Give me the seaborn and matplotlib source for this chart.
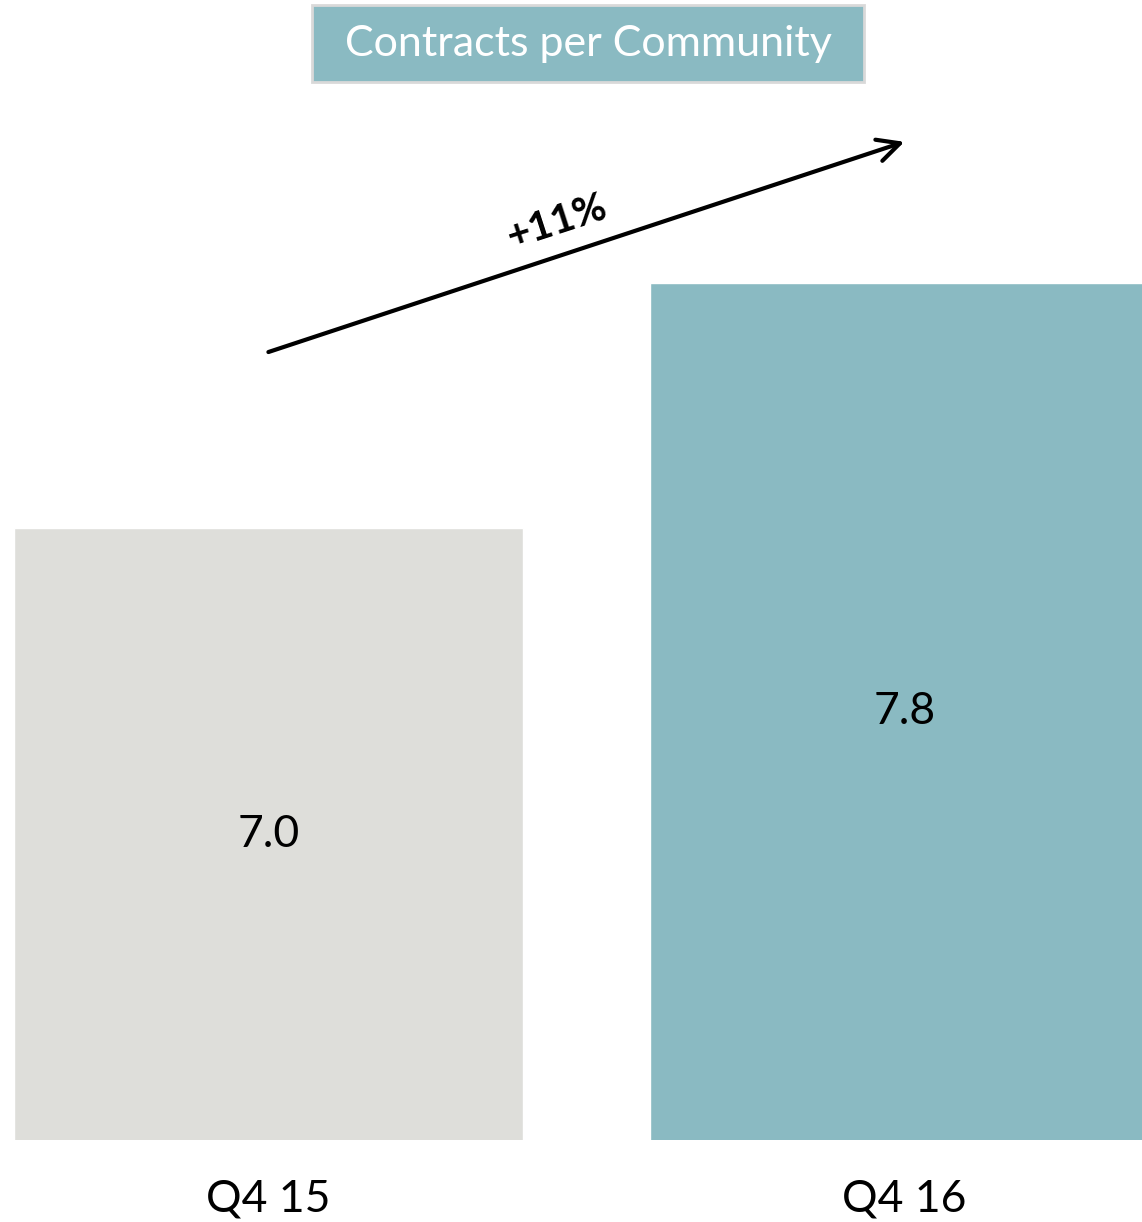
import matplotlib
matplotlib.use("Agg")
import matplotlib.pyplot as plt
import seaborn as sns
import pandas as pd
from matplotlib.patches import Rectangle

# Data
periods = ["Q4 15", "Q4 16"]
contracts_per_community = [7.0, 7.8]
bar_colors = ["#DEDEDA", "#8ABAC2"]
growth_label = "+11%"
title = "Contracts per Community"

sns.set_theme(style="white")
plt.rcParams["font.family"] = ["Lato", "DejaVu Sans"]

df = pd.DataFrame({"period": periods, "value": contracts_per_community})

fig = plt.figure(figsize=(11.42, 12.22), dpi=100)
ax = fig.add_axes([0, 82 / 1222, 1, 1140 / 1222])

sns.barplot(data=df, x="period", y="value", hue="period", palette=bar_colors,
            width=0.8, legend=False, ax=ax, saturation=1)

ymin = 5.0
px_per_unit = 306
ax.set_ylim(ymin, ymin + 1140 / px_per_unit)
ax.set_xlim(-0.4 - 14 / 636, -0.4 - 14 / 636 + 1142 / 636)

for s in ax.spines.values():
    s.set_visible(False)
ax.set_yticks([])
ax.set_xlabel("")
ax.set_ylabel("")
ax.tick_params(axis="x", length=0, pad=28, labelsize=32, labelcolor="black")

# Value labels centred in the visible part of each bar
for i, v in enumerate(contracts_per_community):
    ax.text(i, (ymin + v) / 2, f"{v:.1f}", ha="center", va="center",
            fontsize=32, color="black")

# Growth arrow
ax.annotate("", xy=(1.0, 8.262), xytext=(0.0, 7.575),
            arrowprops=dict(arrowstyle="->", lw=3, color="black",
                            mutation_scale=40, shrinkA=0, shrinkB=0))
ax.text(0.4536, 8.0, growth_label, rotation=18, rotation_mode="anchor",
        ha="center", va="center", fontsize=29, fontweight="bold",
        color="black")

# Title box
W, H = 1142, 1222
fig.patches.append(Rectangle((312 / W, 1 - 82 / H), 552 / W, 77 / H,
                             transform=fig.transFigure, facecolor="#8ABAC2",
                             edgecolor="#D9D9D9", lw=2, zorder=2))
fig.text(588 / W, 1 - 44 / H, title, ha="center", va="center",
         fontsize=31, color="white", zorder=3)

fig.savefig("out.png", dpi=100)
